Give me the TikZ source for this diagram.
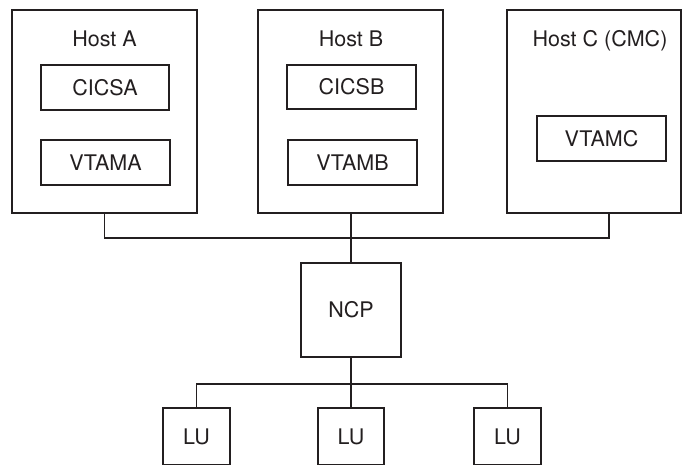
\documentclass[tikz,border=0pt]{standalone}
\usepackage{fontspec}
\setmainfont{TeX Gyre Heros}
\definecolor{ink}{HTML}{231F20}
\begin{document}
\begin{tikzpicture}[x=1pt,y=-1pt,
  every node/.style={font=\fontsize{21.5}{26}\selectfont, text=ink},
  box/.style={draw=ink, line width=1.6pt, rectangle, inner sep=0pt,
    text height=15.4pt, text depth=0pt},
  label/.style={anchor=base, inner sep=0pt},
  conn/.style={draw=ink, line width=1.6pt}]
\useasboundingbox (0,0) rectangle (683,464);
\clip (0,0) rectangle (683,464);
% hosts
\node[box, minimum width=185, minimum height=203] (hostA) at (104.5,111.5) {};
\node[box, minimum width=185, minimum height=203] (hostB) at (350.5,111.5) {};
\node[box, minimum width=174, minimum height=203] (hostC) at (594,111.5) {};
\node[label] (labA) at (104.5,46) {Host A};
\node[label] (labB) at (351,46) {Host B};
\node[label] (labC) at (600,46) {Host C (CMC)};
% inner boxes
\node[box, minimum width=128, minimum height=45] (cicsa) at (105,87.5) {CICSA};
\node[box, minimum width=129, minimum height=45] (vtama) at (105.5,162.5) {VTAMA};
\node[box, minimum width=129, minimum height=44] (cicsb) at (351.5,87) {CICSB};
\node[box, minimum width=129, minimum height=45] (vtamb) at (352.5,162.5) {VTAMB};
\node[box, minimum width=129, minimum height=45] (vtamc) at (601.5,138.5) {VTAMC};
% NCP and LUs
\node[box, minimum width=100, minimum height=94] (ncp) at (351,310) {NCP};
\node[box, minimum width=67, minimum height=57] (lu1) at (196.5,436.5) {LU};
\node[box, minimum width=66, minimum height=57] (lu2) at (351,436.5) {LU};
\node[box, minimum width=67, minimum height=57] (lu3) at (507.5,436.5) {LU};
% connectors
\coordinate (hcdrop) at ([xshift=15]hostC.south);
\draw[conn] (hostA.south) -- ++(0,24) -| (hcdrop);
\draw[conn] (ncp.north) -- (ncp.north |- hostB.south);
\coordinate (lubus) at (351,384);
\draw[conn] (lu1.north) |- (lubus) -| (lu3.north);
\draw[conn] (ncp.south) -- (lu2.north);
\end{tikzpicture}
\end{document}
